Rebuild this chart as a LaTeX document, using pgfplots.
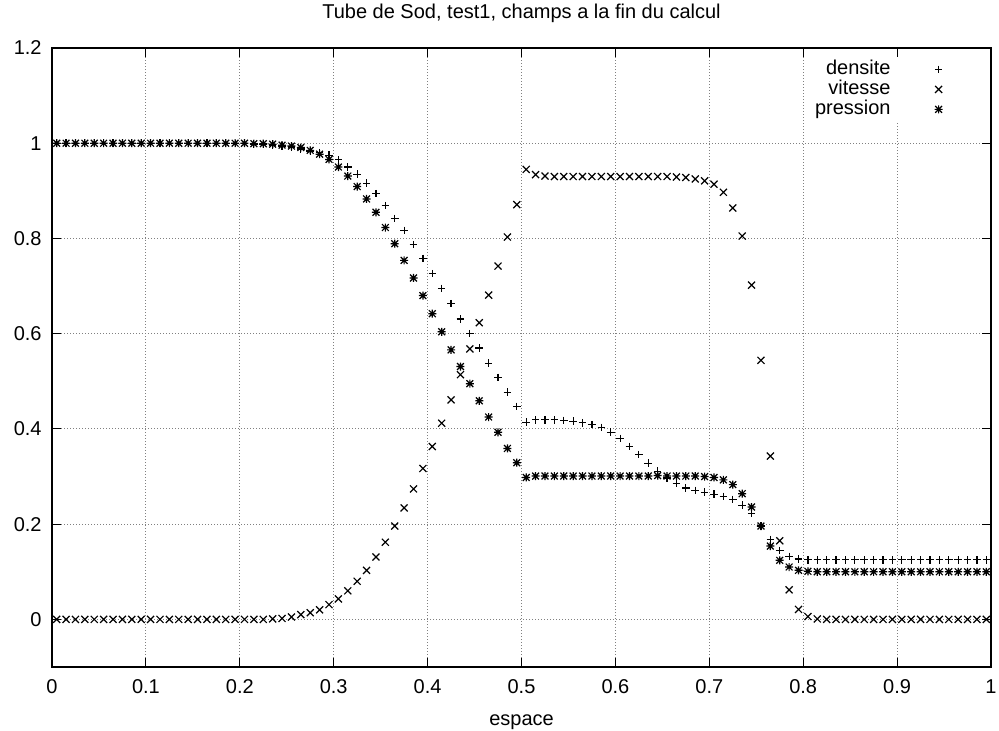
\documentclass[border=0pt]{standalone}
\usepackage{pgfplots}
\pgfplotsset{compat=1.18}
\usepackage{pgfplotstable}
\usepackage{fontspec}
\setmainfont{Liberation Sans}
\pgfdeclareplotmark{gpstar}{%
  \pgfpathmoveto{\pgfqpoint{-\pgfplotmarksize}{0pt}}\pgfpathlineto{\pgfqpoint{\pgfplotmarksize}{0pt}}%
  \pgfpathmoveto{\pgfqpoint{0pt}{-\pgfplotmarksize}}\pgfpathlineto{\pgfqpoint{0pt}{\pgfplotmarksize}}%
  \pgfpathmoveto{\pgfqpoint{-0.85\pgfplotmarksize}{-0.85\pgfplotmarksize}}\pgfpathlineto{\pgfqpoint{0.85\pgfplotmarksize}{0.85\pgfplotmarksize}}%
  \pgfpathmoveto{\pgfqpoint{-0.85\pgfplotmarksize}{0.85\pgfplotmarksize}}\pgfpathlineto{\pgfqpoint{0.85\pgfplotmarksize}{-0.85\pgfplotmarksize}}%
  \pgfusepathqstroke}
\pgfdeclareplotmark{gpx}{%
  \pgfpathmoveto{\pgfqpoint{-\pgfplotmarksize}{-\pgfplotmarksize}}\pgfpathlineto{\pgfqpoint{\pgfplotmarksize}{\pgfplotmarksize}}%
  \pgfpathmoveto{\pgfqpoint{-\pgfplotmarksize}{\pgfplotmarksize}}\pgfpathlineto{\pgfqpoint{\pgfplotmarksize}{-\pgfplotmarksize}}%
  \pgfusepathqstroke}
\pgfplotstableread{
x rho u p
0.005 1 0 1
0.015 1 0 1
0.025 1 0 1
0.035 1 0 1
0.045 1 0 1
0.055 1 0 1
0.065 1 0 1
0.075 1 0 1
0.085 1 0 1
0.095 1 0 1
0.105 1 0 1
0.115 1 0 1
0.125 1 0 1
0.135 1 0 1
0.145 1 0 1
0.155 1 0 1
0.165 1 0 1
0.175 1 0 1
0.185 1 0 1
0.195 0.999 0 1.000
0.205 0.999 0 1.000
0.215 0.998 0 0.999
0.225 0.997 0 0.999
0.235 0.996 0.001 0.998
0.245 0.994 0.002 0.996
0.255 0.992 0.005 0.994
0.265 0.988 0.010 0.991
0.275 0.983 0.014 0.985
0.285 0.980 0.020 0.977
0.295 0.975 0.031 0.966
0.305 0.965 0.043 0.950
0.315 0.950 0.060 0.931
0.325 0.935 0.080 0.909
0.335 0.916 0.103 0.883
0.345 0.894 0.131 0.855
0.355 0.869 0.162 0.823
0.365 0.842 0.196 0.789
0.375 0.817 0.234 0.754
0.385 0.787 0.274 0.717
0.395 0.758 0.317 0.680
0.405 0.726 0.363 0.642
0.415 0.695 0.412 0.604
0.425 0.663 0.461 0.566
0.435 0.631 0.514 0.531
0.445 0.600 0.568 0.495
0.455 0.570 0.623 0.459
0.465 0.538 0.681 0.425
0.475 0.508 0.742 0.393
0.485 0.477 0.803 0.359
0.495 0.447 0.871 0.329
0.505 0.414 0.945 0.298
0.515 0.419 0.934 0.301
0.525 0.419 0.931 0.301
0.535 0.419 0.930 0.301
0.545 0.418 0.930 0.301
0.555 0.416 0.930 0.301
0.565 0.413 0.930 0.301
0.575 0.409 0.930 0.301
0.585 0.403 0.930 0.301
0.595 0.393 0.930 0.301
0.605 0.380 0.930 0.301
0.615 0.363 0.930 0.301
0.625 0.346 0.930 0.301
0.635 0.328 0.930 0.301
0.645 0.311 0.930 0.302
0.655 0.297 0.930 0.301
0.665 0.285 0.929 0.301
0.675 0.276 0.928 0.301
0.685 0.271 0.925 0.301
0.695 0.267 0.921 0.300
0.705 0.263 0.914 0.298
0.715 0.258 0.897 0.293
0.725 0.252 0.864 0.283
0.735 0.240 0.805 0.264
0.745 0.222 0.702 0.236
0.755 0.196 0.544 0.196
0.765 0.168 0.343 0.154
0.775 0.145 0.165 0.124
0.785 0.132 0.062 0.110
0.795 0.127 0.021 0.103
0.805 0.125 0.006 0.101
0.815 0.125 0.001 0.100
0.825 0.125 0 0.100
0.835 0.125 0 0.100
0.845 0.125 0 0.100
0.855 0.125 0 0.100
0.865 0.125 0 0.100
0.875 0.125 0 0.100
0.885 0.125 0 0.100
0.895 0.125 0 0.100
0.905 0.125 0 0.100
0.915 0.125 0 0.100
0.925 0.125 0 0.100
0.935 0.125 0 0.100
0.945 0.125 0 0.100
0.955 0.125 0 0.100
0.965 0.125 0 0.100
0.975 0.125 0 0.100
0.985 0.125 0 0.100
0.995 0.125 0 0.100
}\sod
\begin{document}
\begin{tikzpicture}
\begin{axis}[
  scale only axis, width=469.5pt, height=309.5pt,
  xmin=0, xmax=1, ymin=-0.1, ymax=1.2,
  xtick={0,0.1,0.2,0.3,0.4,0.5,0.6,0.7,0.8,0.9,1},
  ytick={0,0.2,0.4,0.6,0.8,1,1.2},
  /pgf/number format/assume math mode=true,
  font=\fontsize{10}{12}\selectfont,
  tick label style={font=\fontsize{10}{12}\selectfont},
  xticklabel style={anchor=center, yshift=-10pt},
  yticklabel style={anchor=east, inner sep=0pt, xshift=-5pt},
  grid=major,
  grid style={gray, line width=0.5pt, dash pattern=on 0.5pt off 1pt},
  tick align=inside, major tick length=4.5pt,
  tick style={black, line width=0.5pt},
  axis line style={line width=0.6pt},
  title={Tube de Sod, test1, champs a la fin du calcul},
  title style={at={(0.5,1)}, anchor=center, yshift=11.5pt, inner sep=0pt},
  xlabel={espace},
  xlabel style={at={(0.5,0)}, anchor=center, yshift=-27.5pt, inner sep=0pt},
  legend plot pos=right,
  legend cell align=right,
  legend image code/.code={\pgfpathrectangle{\pgfpoint{0pt}{-2pt}}{\pgfpoint{30pt}{4pt}}\pgfusepath{discard}\draw[#1] plot coordinates {(24pt,0pt)};},
  legend style={at={(1,1)}, anchor=north east, xshift=-19pt, yshift=-4.5pt,
    draw=none, fill=white, inner sep=1pt, row sep=0pt, column sep=0pt,
    nodes={inner sep=0pt, text height=7.5pt, text depth=2.5pt},
    font=\fontsize{10}{12}\selectfont},
]
\addplot[only marks, black, line width=0.6pt, mark size=1.9pt, mark=+] table[x=x, y=rho] {\sod};
\addlegendentry{densite}
\addplot[only marks, black, line width=0.6pt, mark size=1.75pt, mark=gpx] table[x=x, y=u] {\sod};
\addlegendentry{vitesse}
\addplot[only marks, black, line width=0.6pt, mark size=2pt, mark=gpstar] table[x=x, y=p] {\sod};
\addlegendentry{pression}
\end{axis}
\pgfresetboundingbox
\useasboundingbox (-26pt,-32pt) rectangle (473.5pt,333.5pt);
\end{tikzpicture}
\end{document}
